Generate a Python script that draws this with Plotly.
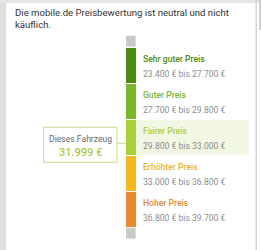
import plotly.graph_objects as go

# ---- data ----
categories = ["Sehr guter Preis", "Guter Preis", "Fairer Preis", "Erhöhter Preis", "Hoher Preis"]
bounds = [23400, 27700, 29800, 33000, 36800, 39700]
vehicle_price = 31999
vehicle_label = "Dieses Fahrzeug"
title_text = "Die mobile.de Preisbewertung ist neutral und nicht<br>käuflich."

# ---- styles ----
bar_colors = ["#4b8a10", "#79b82b", "#a9d13c", "#f2b81d", "#e98a2f"]
label_colors = ["#4d8b14", "#7ab52f", "#a9cf45", "#e8b52a", "#e48a33"]
cap_color = "#c9c9c9"
W, H = 261, 250
band_px = 36.0
top_px = 48.0
gap = 1.2 / band_px
FONT = "Roboto"

def fmt(v):
    return f"{v:,}".replace(",", ".") + " €"

rating = next(i for i in range(len(categories)) if bounds[i] <= vehicle_price < bounds[i + 1])
y_price = rating + (vehicle_price - bounds[rating]) / (bounds[rating + 1] - bounds[rating])

fig = go.Figure()
# caps
fig.add_trace(go.Bar(x=["p"], y=[12 / band_px - gap], base=[-12 / band_px], marker_color=cap_color,
                     width=1, hoverinfo="skip", showlegend=False))
fig.add_trace(go.Bar(x=["p"], y=[11 / band_px], base=[len(categories)], marker_color=cap_color,
                     width=1, hoverinfo="skip", showlegend=False))
for i, c in enumerate(categories):
    fig.add_trace(go.Bar(x=["p"], y=[1 - gap], base=[i], marker_color=bar_colors[i], width=1,
                         marker_line_width=0, hoverinfo="skip", showlegend=False))

shapes = [
    # left grey strip, top band, right border
    dict(type="rect", xref="paper", yref="paper", x0=0, x1=6 / W, y0=0, y1=1, fillcolor="#dedede", line_width=0, layer="below"),
    dict(type="rect", xref="paper", yref="paper", x0=0, x1=1, y0=1 - 3 / H, y1=1, fillcolor="#e6e6e6", line_width=0, layer="below"),
    dict(type="rect", xref="paper", yref="paper", x0=255.5 / W, x1=257 / W, y0=0, y1=1, fillcolor="#d6d6d6", line_width=0, layer="below"),
    dict(type="rect", xref="paper", yref="paper", x0=259 / W, x1=261 / W, y0=1 - 30 / H, y1=1, fillcolor="#cfcfcf", line_width=0, layer="below"),
    # highlight of current rating
    dict(type="rect", xref="paper", yref="y", x0=126 / W, x1=249 / W, y0=rating, y1=rating + 1 - gap,
         fillcolor="#f1f7e2", line_width=0, layer="below"),
    # connector
    dict(type="line", xref="paper", yref="y", x0=117 / W, x1=126 / W, y0=y_price - 0.04, y1=y_price - 0.04,
         line=dict(color="#c6dc8c", width=1)),
    # vehicle box
    dict(type="rect", xref="paper", yref="y", x0=43.5 / W, x1=117 / W, y0=y_price - 17.5 / band_px, y1=y_price + 17.5 / band_px,
         fillcolor="white", line=dict(color="#c6dc8c", width=1)),
]

ann = [dict(text=title_text, xref="paper", yref="paper", x=13 / W, y=1 - 5 / H, xanchor="left", yanchor="top",
            align="left", showarrow=False, font=dict(family=FONT, size=9.6, color="#333333"))]
for i, c in enumerate(categories):
    ann.append(dict(text=c, xref="paper", yref="y", x=141 / W, y=i + 0.31, xanchor="left", yanchor="middle",
                    showarrow=False, font=dict(family=FONT, size=8.6, color=label_colors[i], weight=500)))
    ann.append(dict(text=f"{fmt(bounds[i])} bis {fmt(bounds[i + 1])}", xref="paper", yref="y", x=141 / W,
                    y=i + 0.71, xanchor="left", yanchor="middle", showarrow=False,
                    font=dict(family=FONT, size=8.6, color="#8c8c8c")))
ann.append(dict(text=vehicle_label, xref="paper", yref="y", x=80 / W, y=y_price - 0.15, xanchor="center",
                yanchor="middle", showarrow=False, font=dict(family=FONT, size=8.6, color="#6a6a6a")))
ann.append(dict(text=fmt(vehicle_price), xref="paper", yref="y", x=80 / W, y=y_price + 0.21, xanchor="center",
                yanchor="middle", showarrow=False, font=dict(family=FONT, size=11, color="#a8ca45", weight=500)))

fig.update_layout(
    width=W, height=H, margin=dict(l=0, r=0, t=0, b=0),
    paper_bgcolor="white", plot_bgcolor="rgba(0,0,0,0)",
    barmode="overlay", bargap=0,
    xaxis=dict(type="category", domain=[126 / W, 136 / W], visible=False, fixedrange=True),
    yaxis=dict(range=[(H - top_px) / band_px, -top_px / band_px], visible=False, fixedrange=True),
    shapes=shapes, annotations=ann, showlegend=False,
)
fig.write_html("out.html", config={"displayModeBar": False})
